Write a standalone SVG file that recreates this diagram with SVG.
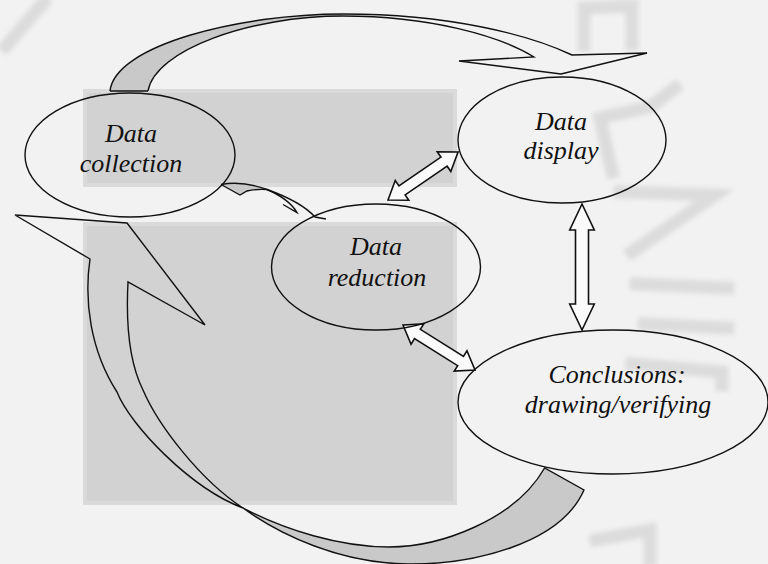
<svg xmlns="http://www.w3.org/2000/svg" width="768" height="564" viewBox="0 0 768 564">
<style>
.ln{fill:none;stroke:#111;stroke-width:1.4;stroke-linejoin:miter}
.gr{fill:#c9c9c9;stroke:none}
.dbl{fill:#fafafa;stroke:#111;stroke-width:1.6;stroke-linejoin:miter}
.el{fill:none;stroke:#111;stroke-width:1.4}
.tx{font-family:"Liberation Serif","Times New Roman",serif;font-style:italic;font-size:26px;fill:#111;text-anchor:middle}
.wm{fill:none;stroke:#dcdcdc;stroke-width:13;stroke-linecap:square}
</style>
<defs>
<path id="dbl85" d="M0,0 L17,-12 L17,-5.5 L67.9,-5.5 L67.9,-12 L84.9,0 L67.9,12 L67.9,5.5 L17,5.5 L17,12 Z"/>
<filter id="soft" x="-10%" y="-10%" width="120%" height="120%"><feGaussianBlur stdDeviation="2.5"/></filter>
</defs>
<rect width="768" height="564" fill="#f2f2f2"/>
<g id="watermark" filter="url(#soft)">
<path class="wm" d="M584,45 L584,8 L632,6 L632,44"/>
<path class="wm" d="M675,88 L650,107 L600,118 L612,172"/>
<path class="wm" d="M620,192 L715,195 L632,252"/>
<path class="wm" d="M636,284 L728,288"/>
<path class="wm" d="M644,324 L728,328"/>
<path class="wm" d="M632,364 L722,372 L722,385"/>
<path class="wm" d="M596,540 L650,530 L650,560"/>
<path class="wm" d="M44,2 L6,46"/>
</g>
<g id="background">
<rect x="83" y="89" width="374" height="98" fill="#dadada"/>
<rect x="87" y="93" width="366" height="90" fill="#d2d2d2"/>
<rect x="83" y="222" width="374" height="283" fill="#dadada"/>
<rect x="87" y="226" width="366" height="275" fill="#d2d2d2"/>
</g>
<g id="connectors">
<g id="arrow-collection-display">
<path class="gr" d="M110,91 C115,45 240,14 343,14 L343,16 C250,16 155,50 148,91 Z"/>
<path class="ln" d="M110,91 C115,45 240,14 343,14 C450,14 530,35 572,55 L647,53 L561,74 L459,61 L534,57 C500,36 430,16 343,16 C250,16 155,50 148,91"/>
<path class="ln" d="M110,91 L148,91"/>
</g>
<g id="arrow-collection-reduction">
<path class="gr" d="M221,184.5 C235,182 252,184 267,189.5 C258,189 251,190 247,191 L240,195 Z"/>
<path class="ln" d="M221,184.5 C235,182 252,184 267,189.5 C288,197 306,207 315,217 L326,219"/>
<path class="ln" d="M221,184.5 L240,195 L247,191 C251,190 258,189 267,189.5 C282,196 292,204 297,212.5 L283,204.5"/>
</g>
<g id="arrow-conclusions-collection">
<path class="gr" d="M243,508 C285,530 340,547 389,547 C440,547 515,520 544.6,468 L584,490 C560,545 470,565 407,564 C340,563 280,535 243,508 Z"/>
<path class="ln" d="M243,508 C285,530 340,547 389,547 C440,547 515,520 544.6,468 L584,490 C560,545 470,565 407,564 C340,563 280,535 243,508"/>
<path class="ln" d="M243,508 C190,488 130,425 117,392 C90,350 84,300 90,259 L15,215 L127,223 L205,325 L128,282 C126,320 128,360 143,390 C158,425 200,480 243,508"/>
</g>
<use class="dbl" href="#dbl85" transform="translate(388,200) rotate(-34.4)"/>
<use class="dbl" href="#dbl85" transform="translate(403,325) rotate(32)"/>
<path class="dbl" d="M582,204 L594.3,230 L588.5,230 L588.5,304 L594.3,304 L582,330 L569.7,304 L575.5,304 L575.5,230 L569.7,230 Z"/>
</g>
<g id="node-collection">
<ellipse class="el" cx="130" cy="155" rx="105" ry="62"/>
<text class="tx" x="131" y="142">Data</text>
<text class="tx" x="131" y="172">collection</text>
</g>
<g id="node-display">
<ellipse class="el" cx="562" cy="140" rx="104" ry="63"/>
<text class="tx" x="561" y="130">Data</text>
<text class="tx" x="561" y="159">display</text>
</g>
<g id="node-reduction">
<ellipse class="el" cx="376" cy="267" rx="104.5" ry="63"/>
<text class="tx" x="376" y="255">Data</text>
<text class="tx" x="377" y="286">reduction</text>
</g>
<g id="node-conclusions">
<ellipse class="el" cx="613" cy="402" rx="155" ry="72"/>
<text class="tx" x="617" y="383">Conclusions:</text>
<text class="tx" x="618" y="413">drawing/verifying</text>
</g>
</svg>
